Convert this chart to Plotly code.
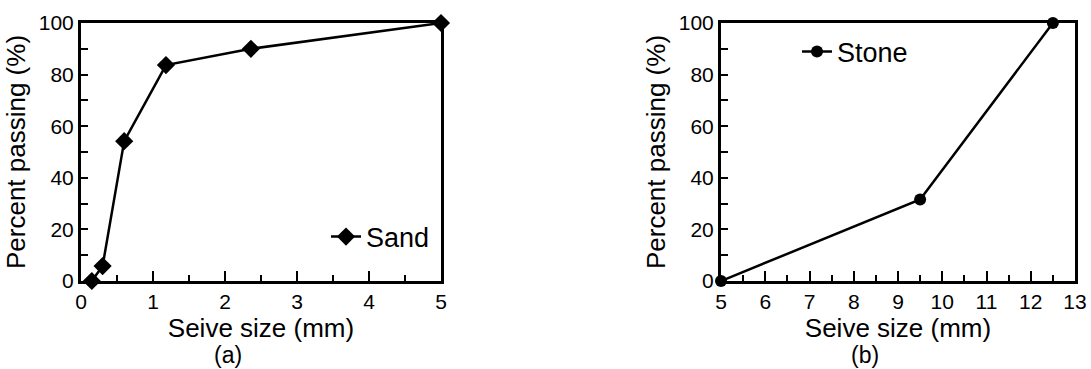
import plotly.graph_objects as go

sand_size = [0.15, 0.3, 0.6, 1.18, 2.36, 5.0]
sand_pass = [0.0, 5.8, 54.2, 83.7, 90.0, 100.0]
stone_size = [5.0, 9.5, 12.5]
stone_pass = [0.0, 31.6, 100.0]

FONT = "Liberation Sans, Arial, sans-serif"
W, H = 1091, 369

fig = go.Figure()
fig.add_trace(go.Scatter(x=sand_size, y=sand_pass, name="Sand", mode="lines+markers",
                         line=dict(color="black", width=2.5),
                         marker=dict(symbol="diamond", size=14, color="black"),
                         cliponaxis=False, xaxis="x", yaxis="y", legend="legend"))
fig.add_trace(go.Scatter(x=stone_size, y=stone_pass, name="Stone", mode="lines+markers",
                         line=dict(color="black", width=2.5),
                         marker=dict(symbol="circle", size=12, color="black"),
                         cliponaxis=False, xaxis="x2", yaxis="y2", legend="legend2"))

ax_common = dict(showline=True, mirror=True, linecolor="black", linewidth=3,
                 showgrid=False, zeroline=False, ticks="inside", tickcolor="black",
                 tickwidth=2, automargin=False,
                 tickfont=dict(family=FONT, size=21, color="black"))
ydom = [(369 - 281) / H, (369 - 23) / H]
TITLE_FONT = dict(size=26, family=FONT, color="black")

fig.update_layout(
    width=W, height=H, margin=dict(l=0, r=0, t=0, b=0),
    paper_bgcolor="white", plot_bgcolor="white",
    font=dict(family=FONT, color="black"),
    xaxis=dict(domain=[81 / W, 441 / W], range=[0, 5], dtick=1, ticklen=10,
               minor=dict(dtick=0.5, ticks="inside", ticklen=6, tickcolor="black", tickwidth=2),
               title=dict(text="Seive size (mm)", font=TITLE_FONT, standoff=4),
               anchor="y", **ax_common),
    yaxis=dict(domain=ydom, range=[0, 100], dtick=20, ticklen=7,
               minor=dict(dtick=10, ticks="inside", ticklen=7, tickcolor="black", tickwidth=2),
               title=dict(text="Percent passing (%)", font=TITLE_FONT, standoff=6),
               anchor="x", **ax_common),
    xaxis2=dict(domain=[721 / W, 1075 / W], range=[5, 13], dtick=1, ticklen=10,
                minor=dict(dtick=0.5, ticks="inside", ticklen=6, tickcolor="black", tickwidth=2),
                title=dict(text="Seive size (mm)", font=TITLE_FONT, standoff=4),
                anchor="y2", **ax_common),
    yaxis2=dict(domain=ydom, range=[0, 100], dtick=20, ticklen=7,
                minor=dict(dtick=10, ticks="inside", ticklen=7, tickcolor="black", tickwidth=2),
                title=dict(text="Percent passing (%)", font=TITLE_FONT, standoff=6),
                anchor="x2", **ax_common),
    legend=dict(x=(367 - 41) / W, y=(369 - 237) / H, xanchor="left", yanchor="middle",
                bgcolor="rgba(0,0,0,0)", font=dict(size=27, family=FONT)),
    legend2=dict(x=(838 - 41) / W, y=(369 - 52) / H, xanchor="left", yanchor="middle",
                 bgcolor="rgba(0,0,0,0)", font=dict(size=27, family=FONT)),
    showlegend=True,
)

fig.add_annotation(text="(a)", x=228 / W, y=(369 - 355) / H, xref="paper", yref="paper",
                   xanchor="center", yanchor="middle",
                   showarrow=False, font=dict(size=23, family=FONT))
fig.add_annotation(text="(b)", x=865 / W, y=(369 - 355) / H, xref="paper", yref="paper",
                   xanchor="center", yanchor="middle",
                   showarrow=False, font=dict(size=23, family=FONT))

fig.write_html("out.html", config={"displayModeBar": False},
               post_script="document.body.style.margin='0px';")
